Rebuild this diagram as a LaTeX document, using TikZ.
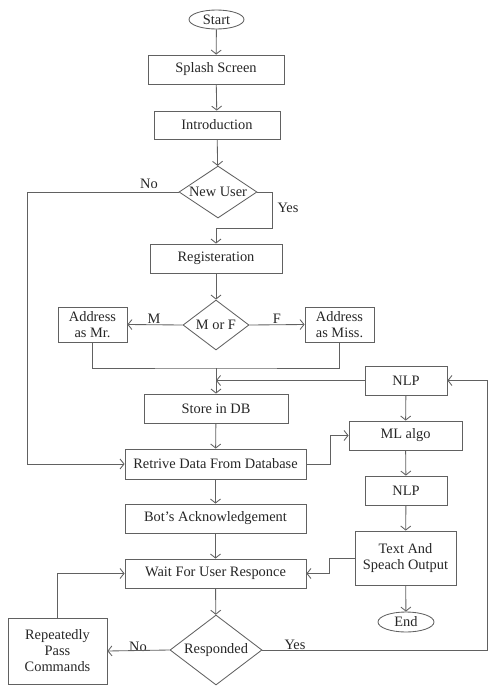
\documentclass[tikz,border=0pt]{standalone}
\usepackage{fontspec}
\setmainfont{Liberation Serif}
\usetikzlibrary{arrows.meta,shapes,calc,positioning}
\newcommand{\dtext}[1]{\makebox[0pt]{#1}}

\begin{document}
\begin{tikzpicture}[x=1pt,y=-1pt,font=\fontsize{14.4}{16}\selectfont,color=black!62,text=black!85,line width=0.85pt,
	box/.style={draw,rectangle,inner sep=0pt,align=center},
	term/.style={draw,ellipse,inner sep=0pt},
	decide/.style={draw,diamond,inner sep=0pt},
	flow/.style={-{Straight Barb[length=4pt,width=10pt]}}]
				\useasboundingbox (0,0) rectangle (488,686);
				\node[term,minimum width=55,minimum height=19] (start) at (216.5,19.5) {Start};
				\node[box,minimum width=136,minimum height=29] (splash) at (216,69.5) {Splash Screen};
				\node[box,minimum width=126,minimum height=28] (intro) at (217,125) {Introduction};
				\node[decide,minimum width=78,minimum height=52] (newuser) at (218,192) {\dtext{New User}};
				\node[box,minimum width=132,minimum height=29] (register) at (216,258.5) {Registeration};
				\node[decide,minimum width=66,minimum height=50] (mf) at (216,325) {\dtext{M or F}};
				\node[box,minimum width=69,minimum height=35] (mr) at (92.5,324.5) {Address\\as Mr.};
				\node[box,minimum width=69,minimum height=35] (miss) at (339.5,324.5) {Address\\as Miss.};
				\node[box,minimum width=144,minimum height=29] (store) at (216,408.5) {Store in DB};
				\node[box,minimum width=181,minimum height=30] (retrive) at (215.5,464) {Retrive Data From Database};
				\node[box,minimum width=181,minimum height=29] (bot) at (215.5,518.5) {Bot's Acknowledgement};
				\node[box,minimum width=181,minimum height=29] (wait) at (215.5,573.5) {Wait For User Responce};
				\node[decide,minimum width=92,minimum height=70] (respond) at (216,650) {\dtext{Responded}};
				\node[box,minimum width=99,minimum height=66] (repeat) at (57.5,651) {Repeatedly\\Pass\\Commands};
				\node[box,minimum width=82,minimum height=29] (nlpa) at (406,380.5) {NLP};
				\node[box,minimum width=113,minimum height=29] (ml) at (405.5,435.5) {ML algo};
				\node[box,minimum width=82,minimum height=29] (nlpb) at (406,490.5) {NLP};
				\node[box,minimum width=101,minimum height=54] (tso) at (405.5,558) {Text And\\Speach Output};
				\node[term,minimum width=56,minimum height=20] (end) at (406,622) {End};
				\node (nolbl) at (149,184) {No};
				\node (yeslbl) at (288,208) {Yes};
				\node (mlbl) at (154,319) {M};
				\node (flbl) at (277,319) {F};
				\node (nolblb) at (138,647) {No};
				\node (yeslblb) at (295,645) {Yes};
				\coordinate (leftx) at (27,192);
				\coordinate (yesx) at (272,228);
				\coordinate (merge) at (216,368);
				\coordinate (rail) at (487,650);
				\draw[flow] (start) -- (splash);
				\draw[flow] (splash) -- (intro);
				\draw[flow] (intro) -- (newuser);
				\draw[flow] (newuser.west) -- (leftx) |- (retrive.west);
				\draw[flow] (newuser.east) -| (yesx) -| (register.north);
				\draw[flow] (register) -- (mf);
				\draw[flow] (mf.west) -- (mr.east);
				\draw[flow] (mf.east) -- (miss.west);
				\draw (mr.south) |- (merge) -| (miss.south);
				\draw[flow] (merge) -- (store.north);
				\draw[flow] (nlpa.west) -- (nlpa.west -| merge);
				\draw[flow] (store) -- (retrive);
				\draw[flow] (retrive.east) -- ++(24,0) |- (ml.west);
				\draw[flow] (retrive) -- (bot);
				\draw[flow] (bot) -- (wait);
				\draw[flow] (wait) -- (respond);
				\draw[flow] (respond.west) -- (repeat.east);
				\draw[flow] (repeat.north) |- (wait.west);
				\draw[flow] (respond.east) -- (rail) |- (nlpa.east);
				\draw[flow] (nlpa) -- (ml);
				\draw[flow] (ml) -- (nlpb);
				\draw[flow] (nlpb) -- (tso);
				\draw[flow] (tso) -- (end);
				\draw[flow] (tso.west) -- ++(-25,0) |- (wait.east);
\end{tikzpicture}
\end{document}
